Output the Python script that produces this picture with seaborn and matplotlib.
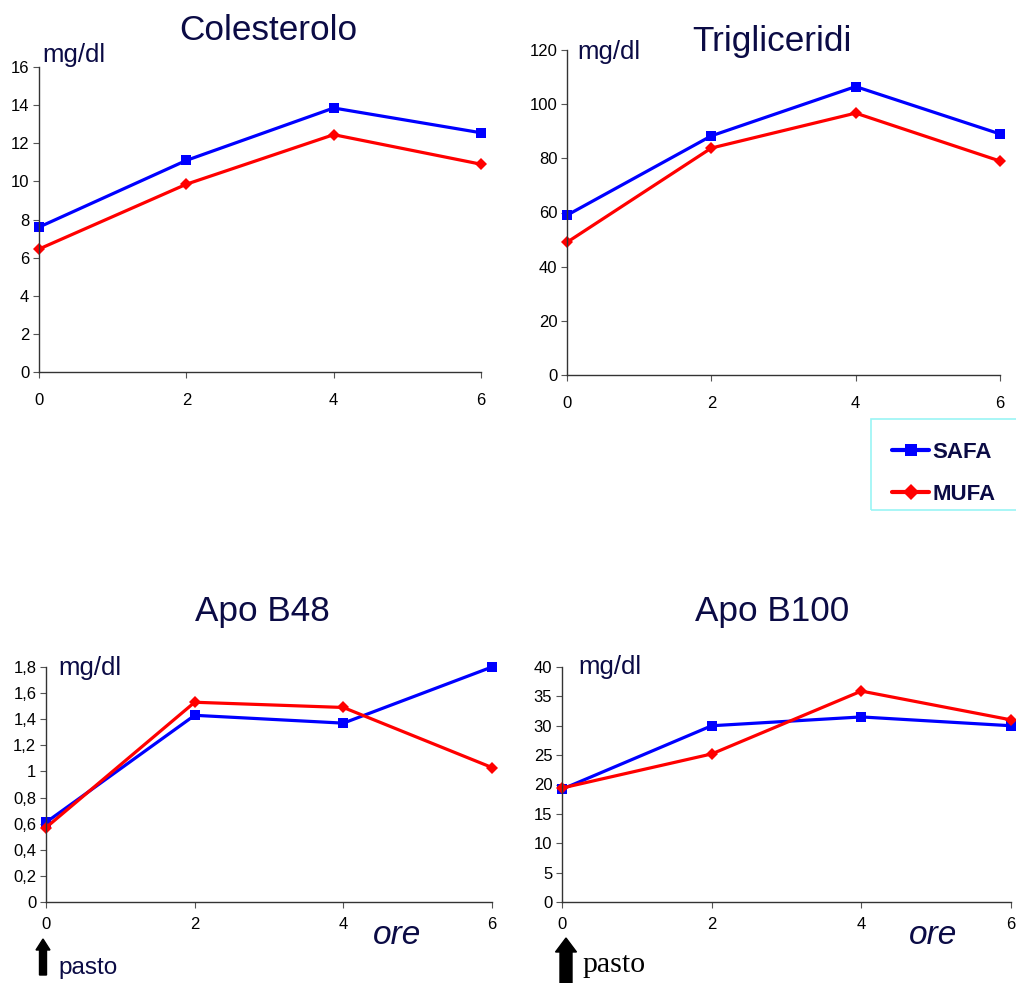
import numpy as np
import pandas as pd
import matplotlib
matplotlib.use("Agg")
import matplotlib.pyplot as plt
import seaborn as sns
from matplotlib.ticker import FuncFormatter
from matplotlib.patches import FancyArrow, Rectangle

sns.set_theme(style="white")
plt.rcParams['font.family'] = ['Liberation Sans', 'DejaVu Sans']

hours = [0, 2, 4, 6]
series = ["SAFA", "MUFA"]
titles = ["Colesterolo", "Trigliceridi", "Apo B48", "Apo B100"]

col_safa = [7.6, 11.1, 13.85, 12.55]
col_mufa = [6.45, 9.85, 12.45, 10.9]
tri_safa = [59, 88.3, 106.5, 89]
tri_mufa = [49, 83.8, 96.7, 79]
b48_safa = [0.61, 1.43, 1.37, 1.80]
b48_mufa = [0.57, 1.53, 1.49, 1.03]
b100_safa = [19.2, 30.0, 31.5, 30.0]
b100_mufa = [19.4, 25.2, 35.9, 31.0]

ymax = [16, 120, 1.8, 40]
ystep = [2, 20, 0.2, 5]

data = [(col_safa, col_mufa), (tri_safa, tri_mufa), (b48_safa, b48_mufa), (b100_safa, b100_mufa)]

navy = "#0b0b45"
palette = {"SAFA": "#0000ff", "MUFA": "#ff0000"}
markers = {"SAFA": "s", "MUFA": "D"}

W, H = 1016, 983
fig = plt.figure(figsize=(W / 100, H / 100), dpi=100)

def frac(l, r, t, b):
    return [l / W, 1 - b / H, (r - l) / W, (b - t) / H]

rects = [frac(39, 481, 67, 372), frac(567, 1000, 50, 375),
         frac(46, 492, 667, 902), frac(562, 1011, 667, 902)]
mg_pos = [(42, 55), (577, 52), (58, 668), (578, 667)]
xpads = [11, 11, 7, 7]

axes = []
for i, (rect, (s, m)) in enumerate(zip(rects, data)):
    ax = fig.add_axes(rect)
    axes.append(ax)
    df = pd.DataFrame({
        "ore": hours * 2,
        "val": s + m,
        "serie": [series[0]] * 4 + [series[1]] * 4,
    })
    sns.lineplot(data=df, x="ore", y="val", hue="serie", style="serie",
                 palette=palette, markers=markers, dashes=False,
                 linewidth=2.3, markersize=7, markeredgewidth=0,
                 ax=ax, legend=(i == 0))
    for ln in ax.lines:
        ln.set_clip_on(False)
        if ln.get_marker() == "D":
            ln.set_markersize(6)
    ax.set_xlim(0, 6)
    ax.set_ylim(0, ymax[i])
    ax.set_xticks(hours)
    ax.set_yticks(np.arange(0, ymax[i] + ystep[i] / 2, ystep[i]))
    ax.yaxis.set_major_formatter(FuncFormatter(lambda v, p: ("%g" % round(v, 2)).replace(".", ",")))
    ax.set_xlabel("")
    ax.set_ylabel("")
    for sp in ["top", "right"]:
        ax.spines[sp].set_visible(False)
    for sp in ["left", "bottom"]:
        ax.spines[sp].set_color("#333333")
        ax.spines[sp].set_linewidth(1.0)
    ax.tick_params(axis="both", which="major", direction="out", length=4,
                   width=0.8, color="#555555", labelsize=12, labelcolor="black",
                   bottom=True, left=True)
    ax.tick_params(axis="y", pad=3)
    ax.tick_params(axis="x", pad=xpads[i])
    ax.set_facecolor("none")
    fig.text(mg_pos[i][0] / W, 1 - mg_pos[i][1] / H, "mg/dl", fontsize=18.5,
             color=navy, ha="left", va="center")

leg_handles, leg_labels = axes[0].get_legend_handles_labels()
axes[0].get_legend().remove()

# titles
fig.text(268 / W, 1 - 30 / H, titles[0], fontsize=25.3, color=navy, ha="center", va="center")
fig.text(772 / W, 1 - 42 / H, titles[1], fontsize=25.3, color=navy, ha="center", va="center")
fig.text(262 / W, 1 - 612 / H, titles[2], fontsize=25.3, color=navy, ha="center", va="center")
fig.text(772 / W, 1 - 612 / H, titles[3], fontsize=25.3, color=navy, ha="center", va="center")

# legend box + legend entries
fig.patches.append(Rectangle((871 / W, 1 - 510 / H), (1020 - 871) / W, (510 - 419) / H,
                             transform=fig.transFigure, fill=False,
                             edgecolor="#99f5f5", linewidth=1.2))
for h in leg_handles:
    h.set_linewidth(3)
    h.set_markersize(9 if h.get_marker() == "s" else 8)
leg = fig.legend(leg_handles, leg_labels, loc="upper left",
                 bbox_to_anchor=(892 / W, 1 - 442 / H), borderaxespad=0,
                 frameon=False, borderpad=0,
                 prop={"weight": "bold", "size": 16}, labelcolor=navy,
                 handlelength=1.67, labelspacing=0.95, handletextpad=0.14)

# 'ore' labels
fig.text(397 / W, 1 - 935 / H, "ore", fontsize=24, style="italic", color=navy, ha="center", va="center")
fig.text(933 / W, 1 - 935 / H, "ore", fontsize=24, style="italic", color=navy, ha="center", va="center")

# 'pasto' arrows (pixel geometry, drawn in inches)
def arrow_px(xc, ytip, ybot, shaft, head, hlen):
    fig.patches.append(FancyArrow(xc / 100, (H - ybot) / 100, 0, (ybot - ytip) / 100,
                                  width=shaft / 100, head_width=head / 100,
                                  head_length=hlen / 100, length_includes_head=True,
                                  color="black", transform=fig.dpi_scale_trans))

arrow_px(43, 939, 975, 7, 14, 11)
arrow_px(566, 938, 990, 12, 21, 14)
fig.text(58 / W, 1 - 968 / H, "pasto", fontsize=17.5, color=navy, ha="left", va="center")
fig.text(582 / W, 1 - 965 / H, "pasto", fontsize=21.5, family="Liberation Serif",
         color="black", ha="left", va="center")

fig.savefig("out.png", dpi=100)
